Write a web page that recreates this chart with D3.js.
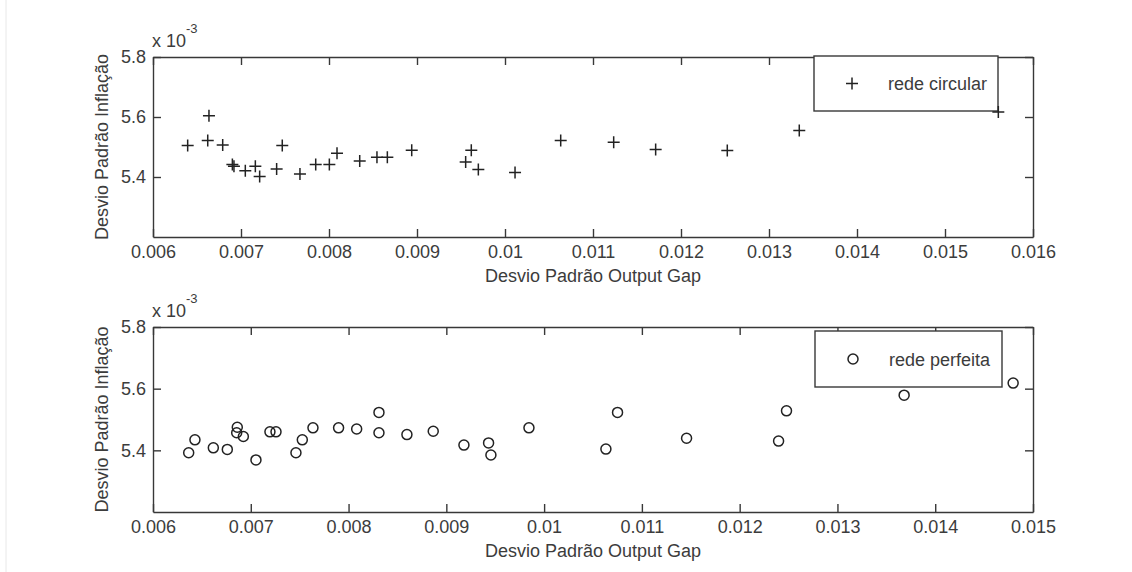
<!doctype html>
<html>
<head>
<meta charset="utf-8">
<title>Desvio Padrão</title>
<style>
  body { margin: 0; background: #fff; }
  svg text { font-family: "Liberation Sans", Arial, sans-serif; fill: #3c3c3c; }
</style>
</head>
<body>
<div id="here"></div>
<script src="https://d3js.org/d3.v7.min.js"></script>
<script>
// rede circular (y em unidades de 1e-3)
var circX = [0.006394, 0.006622, 0.006636, 0.006792, 0.006902, 0.006920, 0.007049, 0.007163,
             0.007212, 0.007405, 0.007469, 0.007670, 0.007849, 0.008004, 0.008091, 0.008349,
             0.008545, 0.008663, 0.008940, 0.009553, 0.009617, 0.009697, 0.010114, 0.010633,
             0.011235, 0.011712, 0.012526, 0.013344, 0.015606];
var circY = [5.505, 5.522, 5.604, 5.507, 5.442, 5.436, 5.421, 5.436,
             5.402, 5.427, 5.505, 5.410, 5.442, 5.442, 5.479, 5.453,
             5.466, 5.466, 5.489, 5.450, 5.489, 5.425, 5.415, 5.522,
             5.516, 5.492, 5.488, 5.555, 5.617];

// rede perfeita
var perfX = [0.006365, 0.006429, 0.006617, 0.006760, 0.006862, 0.006856, 0.006924, 0.007053,
             0.007196, 0.007258, 0.007462, 0.007527, 0.007636, 0.007898, 0.008083, 0.008311,
             0.008311, 0.008597, 0.008866, 0.009180, 0.009432, 0.009456, 0.009845, 0.010632,
             0.010751, 0.011457, 0.012398, 0.012479, 0.013682, 0.014797];
var perfY = [5.392, 5.434, 5.408, 5.403, 5.475, 5.457, 5.445, 5.369,
             5.460, 5.460, 5.392, 5.434, 5.473, 5.473, 5.469, 5.523,
             5.457, 5.451, 5.462, 5.417, 5.424, 5.385, 5.473, 5.404,
             5.523, 5.439, 5.430, 5.528, 5.579, 5.618];

var xTicksTop = [0.006, 0.007, 0.008, 0.009, 0.010, 0.011, 0.012, 0.013, 0.014, 0.015, 0.016];
var xTicksBottom = [0.006, 0.007, 0.008, 0.009, 0.010, 0.011, 0.012, 0.013, 0.014, 0.015];
var yTicks = [5.4, 5.6, 5.8];

var W = 1132, H = 572;
var svg = d3.select("#here").append("svg")
  .attr("width", W).attr("height", H)
  .style("display", "block");

svg.append("rect").attr("width", W).attr("height", H).attr("fill", "#fff");
// borda clara da página
svg.append("line").attr("x1", 6).attr("x2", 6).attr("y1", 0).attr("y2", H)
  .attr("stroke", "#e8e8e8");

function fmt(d) { return String(+d.toFixed(3)); }

function painel(o) {
  var x = d3.scaleLinear().domain(o.xDomain).range([153, 1033]);
  var y = d3.scaleLinear().domain([5.2, 5.8]).range([o.bottom, o.top]);
  var g = svg.append("g");

  var ax = [
    { a: d3.axisBottom(x).tickValues(o.xTicks).tickFormat(fmt).tickPadding(8.5), t: "translate(0," + o.bottom + ")" },
    { a: d3.axisTop(x).tickValues(o.xTicks).tickFormat(""), t: "translate(0," + o.top + ")" },
    { a: d3.axisLeft(y).tickValues(yTicks).tickFormat(d3.format(".1f")).tickPadding(7), t: "translate(153,0)" },
    { a: d3.axisRight(y).tickValues(yTicks).tickFormat(""), t: "translate(1033,0)" }
  ];
  ax.forEach(function(s) {
    var sel = g.append("g").attr("transform", s.t)
      .call(s.a.tickSizeInner(-8).tickSizeOuter(0));
    sel.select(".domain").attr("stroke", "#383838").attr("stroke-width", 1.4);
    sel.selectAll(".tick line").attr("stroke", "#383838").attr("stroke-width", 1.4);
    sel.selectAll("text").attr("font-size", 18).attr("fill", "#3c3c3c")
      .attr("font-family", "Liberation Sans, Arial, sans-serif");
  });

  // multiplicador x 10^-3
  var m = g.append("text").attr("x", 152).attr("y", o.top - 10).attr("font-size", 18);
  m.append("tspan").text("x 10");
  m.append("tspan").attr("font-size", 13).attr("dy", -14).text("-3");

  g.append("text").attr("x", 593).attr("y", o.bottom + 45)
    .attr("text-anchor", "middle").attr("font-size", 18)
    .text("Desvio Padrão Output Gap");

  g.append("text")
    .attr("transform", "translate(108," + ((o.top + o.bottom) / 2) + ") rotate(-90)")
    .attr("text-anchor", "middle").attr("font-size", 18)
    .text("Desvio Padrão Inflação");

  var pts = o.xs.map(function(v, i) { return [v, o.ys[i]]; });

  // legenda
  var lg = g.append("g");
  lg.append("rect").attr("x", o.leg[0]).attr("y", o.leg[1])
    .attr("width", o.leg[2]).attr("height", o.leg[3])
    .attr("fill", "#fff").attr("stroke", "#383838").attr("stroke-width", 1.4);
  var lm = o.leg[1] + o.leg[3] / 2;
  lg.append("text").attr("x", o.leg[0] + 74).attr("y", lm + 6.5)
    .attr("font-size", 18).text(o.name);

  function marca(sel, cx, cy) {
    if (o.mark === "plus") {
      sel.append("path")
        .attr("d", "M" + (cx - 6) + "," + cy + "H" + (cx + 6) + "M" + cx + "," + (cy - 6) + "V" + (cy + 6))
        .attr("stroke", "#222").attr("stroke-width", 1.5).attr("fill", "none");
    } else {
      sel.append("circle").attr("cx", cx).attr("cy", cy).attr("r", 5)
        .attr("stroke", "#222").attr("stroke-width", 1.5).attr("fill", "none");
    }
  }
  marca(lg, o.leg[0] + 38, lm);

  var dots = g.append("g");
  pts.forEach(function(p) { marca(dots, x(p[0]), y(p[1])); });
}

painel({ xDomain: [0.006, 0.016], xTicks: xTicksTop, top: 57, bottom: 237,
         xs: circX, ys: circY, mark: "plus", name: "rede circular",
         leg: [814, 56, 184, 55] });

painel({ xDomain: [0.006, 0.015], xTicks: xTicksBottom, top: 327, bottom: 512,
         xs: perfX, ys: perfY, mark: "circle", name: "rede perfeita",
         leg: [815, 331, 187, 56] });
</script>
</body>
</html>
